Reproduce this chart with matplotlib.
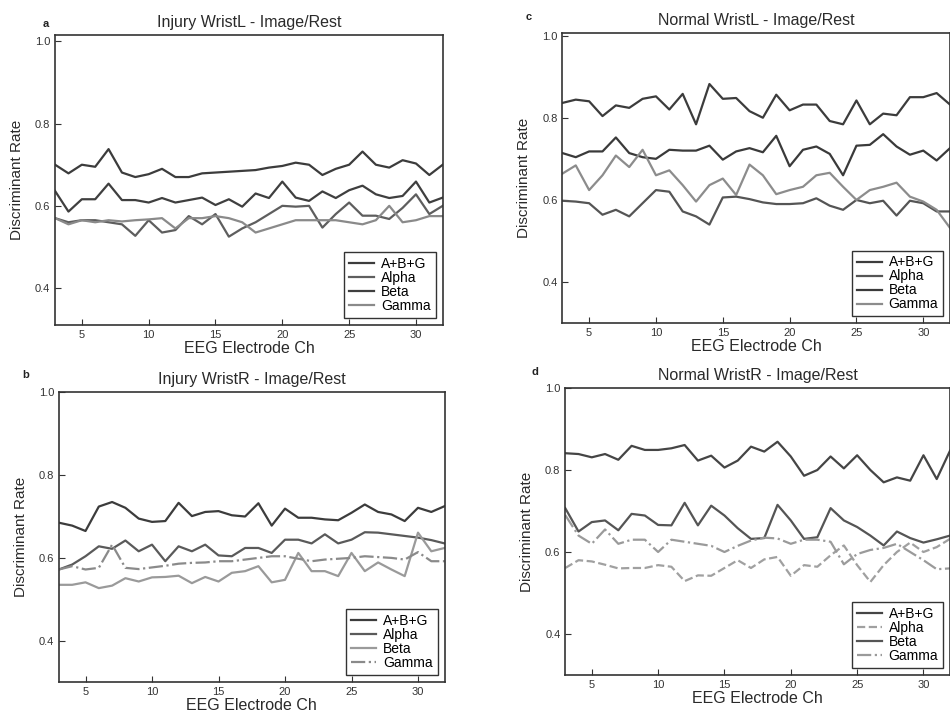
import matplotlib
matplotlib.use("Agg")
from matplotlib import pyplot as plt

plt.rcParams["font.family"] = ["Liberation Sans", "DejaVu Sans"]

channels = list(range(3, 33))
series_names = ["A+B+G", "Alpha", "Beta", "Gamma"]

# panel a - Injury WristL
inj_l_abg = [0.700, 0.679, 0.700, 0.695, 0.738, 0.681, 0.670, 0.677, 0.690, 0.670,
             0.670, 0.679, 0.681, 0.683, 0.685, 0.687, 0.693, 0.697, 0.705, 0.700,
             0.675, 0.690, 0.700, 0.732, 0.700, 0.693, 0.711, 0.703, 0.675, 0.700]
inj_l_alpha = [0.570, 0.560, 0.565, 0.565, 0.560, 0.555, 0.527, 0.565, 0.535, 0.541,
               0.575, 0.555, 0.580, 0.525, 0.545, 0.560, 0.580, 0.600, 0.598, 0.600,
               0.547, 0.580, 0.608, 0.576, 0.576, 0.568, 0.595, 0.628, 0.580, 0.600]
inj_l_beta = [0.636, 0.586, 0.616, 0.616, 0.654, 0.614, 0.614, 0.608, 0.619, 0.608,
              0.614, 0.620, 0.602, 0.616, 0.598, 0.630, 0.619, 0.659, 0.620, 0.612,
              0.635, 0.619, 0.638, 0.649, 0.628, 0.619, 0.624, 0.659, 0.608, 0.620]
inj_l_gamma = [0.570, 0.555, 0.565, 0.560, 0.565, 0.562, 0.565, 0.567, 0.570, 0.545,
               0.570, 0.570, 0.575, 0.570, 0.560, 0.535, 0.545, 0.555, 0.565, 0.565,
               0.565, 0.565, 0.560, 0.555, 0.565, 0.600, 0.560, 0.565, 0.575, 0.575]

# panel b - Injury WristR
inj_r_abg = [0.685, 0.678, 0.665, 0.724, 0.735, 0.721, 0.695, 0.687, 0.689, 0.733,
             0.701, 0.711, 0.713, 0.703, 0.700, 0.732, 0.678, 0.719, 0.697, 0.697,
             0.693, 0.691, 0.709, 0.729, 0.711, 0.705, 0.689, 0.721, 0.711, 0.725]
inj_r_alpha = [0.572, 0.584, 0.604, 0.628, 0.622, 0.642, 0.616, 0.632, 0.592, 0.628,
               0.616, 0.632, 0.606, 0.604, 0.624, 0.624, 0.612, 0.644, 0.644, 0.635,
               0.657, 0.635, 0.644, 0.662, 0.661, 0.657, 0.653, 0.649, 0.643, 0.635]
inj_r_beta = [0.535, 0.535, 0.541, 0.527, 0.533, 0.551, 0.543, 0.553, 0.554, 0.557,
              0.539, 0.554, 0.543, 0.564, 0.568, 0.580, 0.541, 0.547, 0.612, 0.568,
              0.568, 0.556, 0.612, 0.568, 0.589, 0.572, 0.556, 0.661, 0.616, 0.624]
inj_r_gamma = [0.572, 0.580, 0.572, 0.576, 0.632, 0.576, 0.573, 0.577, 0.581, 0.586,
               0.588, 0.589, 0.592, 0.592, 0.596, 0.600, 0.604, 0.604, 0.598, 0.592,
               0.596, 0.598, 0.600, 0.604, 0.602, 0.600, 0.596, 0.614, 0.592, 0.592]

# panel c - Normal WristL
nor_l_abg = [0.836, 0.844, 0.840, 0.804, 0.830, 0.824, 0.846, 0.852, 0.820, 0.858,
             0.784, 0.882, 0.846, 0.848, 0.816, 0.800, 0.856, 0.818, 0.832, 0.832,
             0.792, 0.784, 0.842, 0.784, 0.810, 0.806, 0.850, 0.850, 0.860, 0.832]
nor_l_alpha = [0.598, 0.596, 0.592, 0.564, 0.576, 0.560, 0.592, 0.624, 0.620, 0.572,
               0.560, 0.540, 0.606, 0.608, 0.602, 0.594, 0.590, 0.590, 0.592, 0.604,
               0.586, 0.576, 0.600, 0.592, 0.598, 0.562, 0.598, 0.592, 0.572, 0.572]
nor_l_beta = [0.714, 0.704, 0.718, 0.718, 0.752, 0.714, 0.704, 0.700, 0.722, 0.720,
              0.720, 0.732, 0.698, 0.718, 0.726, 0.716, 0.756, 0.682, 0.722, 0.730,
              0.712, 0.660, 0.732, 0.734, 0.760, 0.730, 0.710, 0.720, 0.696, 0.726]
nor_l_gamma = [0.664, 0.684, 0.624, 0.660, 0.708, 0.680, 0.722, 0.660, 0.672, 0.636,
               0.596, 0.636, 0.652, 0.612, 0.686, 0.660, 0.614, 0.624, 0.632, 0.660,
               0.666, 0.632, 0.600, 0.624, 0.632, 0.642, 0.608, 0.596, 0.576, 0.532]

# panel d - Normal WristR
nor_r_abg = [0.841, 0.839, 0.831, 0.839, 0.825, 0.859, 0.849, 0.849, 0.853, 0.861,
             0.823, 0.835, 0.806, 0.823, 0.857, 0.845, 0.869, 0.833, 0.786, 0.800,
             0.833, 0.804, 0.836, 0.800, 0.770, 0.782, 0.774, 0.836, 0.778, 0.847]
nor_r_alpha = [0.561, 0.580, 0.577, 0.569, 0.560, 0.561, 0.561, 0.568, 0.564, 0.529,
               0.543, 0.542, 0.561, 0.580, 0.561, 0.582, 0.588, 0.542, 0.568, 0.564,
               0.592, 0.616, 0.568, 0.527, 0.568, 0.600, 0.623, 0.600, 0.612, 0.632]
nor_r_beta = [0.707, 0.650, 0.673, 0.677, 0.653, 0.693, 0.689, 0.666, 0.665, 0.720,
              0.665, 0.713, 0.689, 0.658, 0.632, 0.634, 0.715, 0.677, 0.632, 0.636,
              0.707, 0.677, 0.661, 0.640, 0.616, 0.650, 0.634, 0.623, 0.631, 0.640]
nor_r_gamma = [0.690, 0.640, 0.620, 0.655, 0.620, 0.630, 0.630, 0.600, 0.630, 0.625,
               0.620, 0.615, 0.600, 0.615, 0.628, 0.635, 0.633, 0.620, 0.630, 0.630,
               0.625, 0.570, 0.595, 0.605, 0.610, 0.620, 0.600, 0.580, 0.558, 0.560]

panels = [
    {"letter": "a", "title": "Injury WristL - Image/Rest",
     "data": [inj_l_abg, inj_l_alpha, inj_l_beta, inj_l_gamma],
     "colors": ["#3c3c3c", "#5e5e5e", "#3f3f3f", "#8a8a8a"],
     "styles": ["-", "-", "-", "-"],
     "rect": [0.058, 0.5435, 0.408, 0.407], "ylim": (0.31, 1.015),
     "letter_xy": (0.045, 0.962)},
    {"letter": "c", "title": "Normal WristL - Image/Rest",
     "data": [nor_l_abg, nor_l_alpha, nor_l_beta, nor_l_gamma],
     "colors": ["#3c3c3c", "#555555", "#3a3a3a", "#8c8c8c"],
     "styles": ["-", "-", "-", "-"],
     "rect": [0.592, 0.546, 0.408, 0.407], "ylim": (0.30, 1.005),
     "letter_xy": (0.553, 0.972)},
    {"letter": "b", "title": "Injury WristR - Image/Rest",
     "data": [inj_r_abg, inj_r_alpha, inj_r_beta, inj_r_gamma],
     "colors": ["#3c3c3c", "#5a5a5a", "#9a9a9a", "#8a8a8a"],
     "styles": ["-", "-", "-", "-."],
     "rect": [0.062, 0.042, 0.406, 0.407], "ylim": (0.30, 1.0),
     "letter_xy": (0.023, 0.469)},
    {"letter": "d", "title": "Normal WristR - Image/Rest",
     "data": [nor_r_abg, nor_r_alpha, nor_r_beta, nor_r_gamma],
     "colors": ["#454545", "#a0a0a0", "#555555", "#9a9a9a"],
     "styles": ["-", "--", "-", "-."],
     "rect": [0.595, 0.052, 0.405, 0.403], "ylim": (0.30, 1.0),
     "letter_xy": (0.560, 0.473)},
]

fig = plt.figure(figsize=(9.5, 7.12), dpi=100)

for p in panels:
    ax = fig.add_axes(p["rect"])
    for values, color, style, name in zip(p["data"], p["colors"], p["styles"], series_names):
        ax.plot(channels, values, color=color, linestyle=style, linewidth=1.6, label=name)
    ax.set_xlim(3, 32)
    ax.set_ylim(*p["ylim"])
    ax.set_xticks([5, 10, 15, 20, 25, 30])
    ax.set_yticks([0.4, 0.6, 0.8, 1.0])
    ax.set_yticklabels(["0.4", "0.6", "0.8", "1.0"])
    ax.tick_params(direction="in", length=4, labelsize=8, colors="#333333")
    for spine in ax.spines.values():
        spine.set_color("#333333")
        spine.set_linewidth(1.2)
    ax.set_title(p["title"], fontsize=11.5, color="#2a2a2a", pad=6)
    ax.set_xlabel("EEG Electrode Ch", fontsize=11.5, color="#2a2a2a", labelpad=1)
    ax.set_ylabel("Discriminant Rate", fontsize=11, color="#2a2a2a", labelpad=8)
    leg = ax.legend(loc="lower right", fontsize=10, handlelength=1.8, handletextpad=0.5,
                    labelspacing=0.0, borderpad=0.35, fancybox=False,
                    borderaxespad=0.5, framealpha=1)
    leg.get_frame().set_edgecolor("#333333")
    leg.get_frame().set_linewidth(1.0)
    fig.text(p["letter_xy"][0], p["letter_xy"][1], p["letter"], fontsize=8,
             fontweight="bold", color="#222222")

fig.savefig("out.png", dpi=100)
